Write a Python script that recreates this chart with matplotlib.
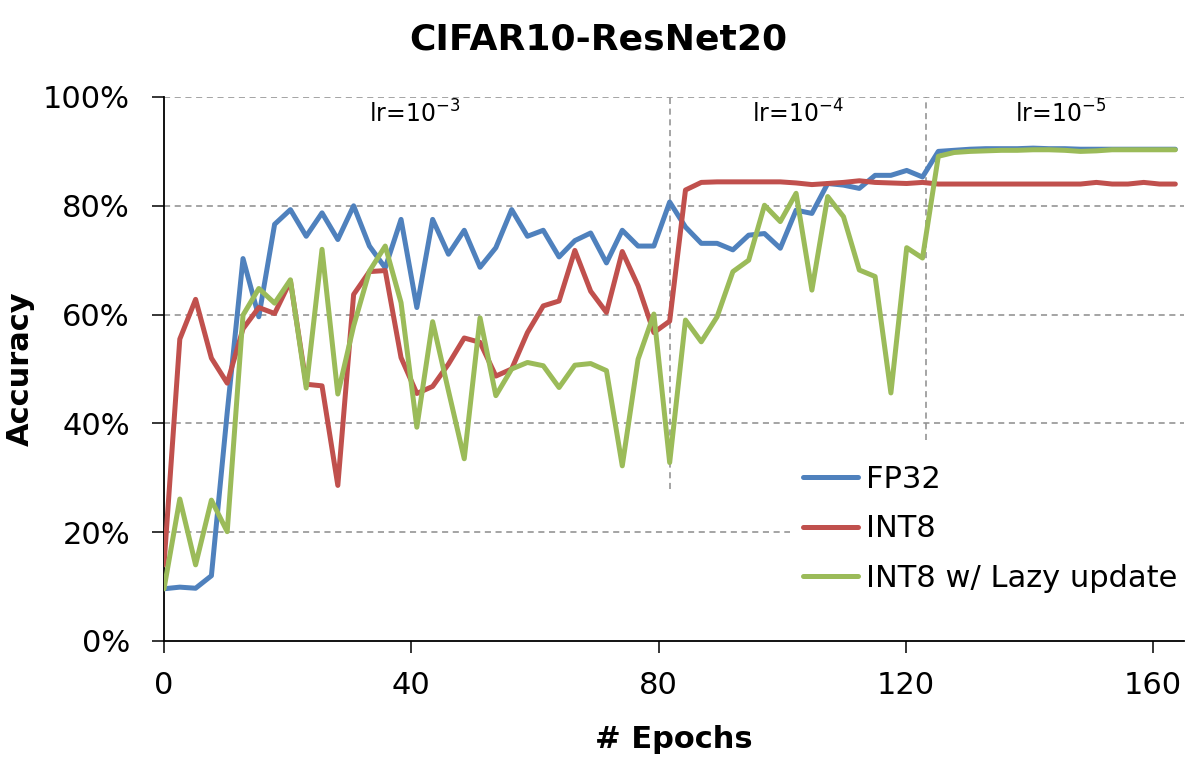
import matplotlib
matplotlib.use("Agg")
import matplotlib.pyplot as plt
import numpy as np

plt.rcParams['font.family'] = ['DejaVu Sans']
plt.rcParams['mathtext.default'] = 'regular'

# 65 test points, evenly spaced over the run
epochs = np.linspace(0, 163.6, 65)

fp32 = [9.6, 9.9, 9.7, 12.0, 42.0, 70.3, 59.6, 76.6, 79.3, 74.4,
        78.7, 73.8, 80.0, 72.6, 68.6, 77.5, 61.3, 77.5, 71.1, 75.5,
        68.7, 72.3, 79.3, 74.4, 75.5, 70.6, 73.6, 75.0, 69.5, 75.5,
        72.6, 72.6, 80.7, 76.1, 73.1, 73.1, 71.9, 74.6, 74.9, 72.2,
        79.2, 78.6, 84.1, 83.8, 83.2, 85.6, 85.6, 86.5, 85.3, 90.0,
        90.2, 90.4, 90.5, 90.5, 90.5, 90.6, 90.5, 90.5, 90.4, 90.4,
        90.4, 90.4, 90.4, 90.4, 90.4]

int8 = [14.0, 55.5, 62.8, 52.0, 47.4, 57.4, 61.3, 60.2, 66.2, 47.2,
        46.9, 28.6, 63.7, 67.9, 68.1, 52.1, 45.5, 46.8, 50.9, 55.7,
        54.9, 48.7, 50.0, 56.7, 61.6, 62.5, 71.8, 64.3, 60.4, 71.6,
        65.3, 56.7, 58.8, 82.9, 84.3, 84.4, 84.4, 84.4, 84.4, 84.4,
        84.2, 83.9, 84.1, 84.3, 84.6, 84.3, 84.2, 84.1, 84.3, 84.0,
        84.0, 84.0, 84.0, 84.0, 84.0, 84.0, 84.0, 84.0, 84.0, 84.3,
        84.0, 84.0, 84.3, 84.0, 84.0]

lazy = [9.6, 26.1, 14.0, 25.9, 20.1, 59.9, 64.8, 62.1, 66.4, 46.5,
        72.0, 45.4, 57.9, 68.0, 72.6, 62.2, 39.3, 58.7, 46.0, 33.5,
        59.4, 45.1, 50.0, 51.2, 50.6, 46.6, 50.7, 51.0, 49.7, 32.2,
        51.8, 60.1, 32.8, 59.0, 55.0, 59.6, 67.9, 70.0, 80.1, 77.1,
        82.3, 64.5, 81.7, 78.0, 68.2, 67.0, 45.6, 72.3, 70.4, 89.1,
        89.8, 90.0, 90.1, 90.2, 90.2, 90.3, 90.3, 90.2, 90.0, 90.1,
        90.3, 90.3, 90.3, 90.3, 90.3]

lr_changes = [81.9, 123.3]
lr_bottoms = [28, 37]
lr_labels = ['lr=10$^{-3}$', 'lr=10$^{-4}$', 'lr=10$^{-5}$']
lr_label_x = [40.5, 102.5, 145]

fig = plt.figure(figsize=(11.96, 7.71), dpi=100)
ax = fig.add_axes([164/1196, 1 - 641/771, 1020/1196, 544/771])

# 横向虚线网格
for yv in [20, 40, 60, 80, 100]:
    ax.axhline(yv, color='#8c8c8c', lw=1.1, ls=(0, (4, 3)), zorder=1)
# 学习率切换位置
for xv, yb in zip(lr_changes, lr_bottoms):
    ax.vlines(xv, yb, 100, color='#8c8c8c', lw=1.1, ls=(0, (4, 3)), zorder=1)

ax.plot(epochs, fp32, color='#4F81BD', lw=3.6, label='FP32', solid_joinstyle='round', solid_capstyle='round', zorder=3)
ax.plot(epochs, int8, color='#C0504D', lw=3.6, label='INT8', solid_joinstyle='round', solid_capstyle='round', zorder=3)
ax.plot(epochs, lazy, color='#9BBB59', lw=3.6, label='INT8 w/ Lazy update', solid_joinstyle='round', solid_capstyle='round', zorder=3)

for xt, txt in zip(lr_label_x, lr_labels):
    ax.text(xt, 99.3, txt, fontsize=17, ha='center', va='top')

ax.set_xlim(0, 165)
ax.set_ylim(0, 100)
ax.set_xticks([0, 40, 80, 120, 160])
ax.set_yticks([0, 20, 40, 60, 80, 100])
ax.set_yticklabels(['%d%%' % v for v in [0, 20, 40, 60, 80, 100]])
ax.tick_params(axis='both', labelsize=22, length=8.5, width=1.1, direction='out')
ax.tick_params(axis='y', pad=16)
ax.tick_params(axis='x', pad=13)

for s in ['top', 'right']:
    ax.spines[s].set_visible(False)
for s in ['left', 'bottom']:
    ax.spines[s].set_linewidth(1.3)

ax.set_xlabel('# Epochs', fontsize=22, fontweight='bold')
ax.xaxis.set_label_coords(0.5, -0.154)
ax.set_ylabel('Accuracy', fontsize=22, fontweight='bold')
ax.yaxis.set_label_coords(-0.127, 0.5)

fig.suptitle('CIFAR10-ResNet20', fontsize=26, fontweight='bold', x=0.5, y=1 - 22/771, va='top')

leg = ax.legend(loc='upper left', bbox_to_anchor=(0.614, 0.346), fontsize=22,
                frameon=True, facecolor='white', edgecolor='none', framealpha=1,
                fancybox=False, borderpad=0.4, borderaxespad=0, handlelength=1.83,
                handletextpad=0.26, labelspacing=0.67)
leg.set_zorder(5)
for line in leg.get_lines():
    line.set_solid_capstyle('round')

fig.savefig('out.png', dpi=100)
